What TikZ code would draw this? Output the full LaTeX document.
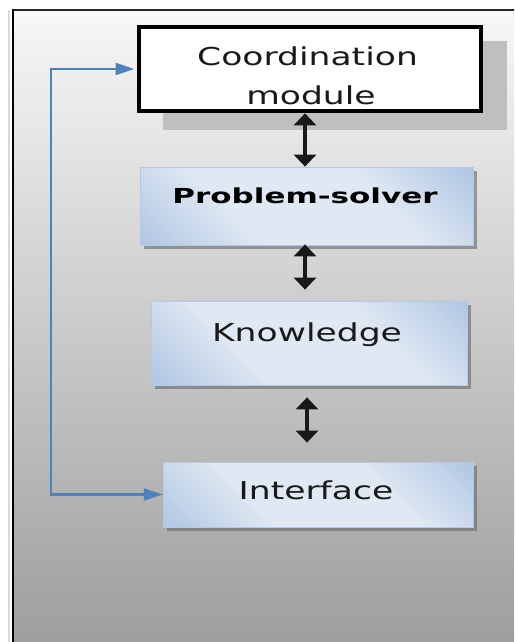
\documentclass[tikz,border=0pt]{standalone}
\usepackage{fontspec}
\newfontfamily\regfont[FakeStretch=1.40]{DejaVu Sans}
\newfontfamily\bfont[FakeStretch=1.50]{DejaVu Sans}
\usetikzlibrary{arrows.meta,calc}
\definecolor{bdark}{HTML}{90AED8}
\definecolor{blight}{HTML}{DFE8F3}
\definecolor{bline}{HTML}{4F81BD}
\definecolor{bedge}{HTML}{B3C9E4}
\pgfdeclarehorizontalshading{wordblue}{100bp}{color(0bp)=(bdark); color(36bp)=(blight); color(64bp)=(blight); color(100bp)=(bdark)}
\tikzset{
  bluebox/.style={rectangle, shading=wordblue, shading angle=45, draw=bedge, line width=0.6pt, inner sep=0pt},
  boxshadow/.style={fill=black!60, opacity=0.6},
  coordbox/.style={rectangle, fill=white, draw=black, line width=3.5pt, inner sep=0pt},
  regtext/.style={anchor=base, inner sep=0pt, text=black!90, font=\regfont\fontsize{18.5}{28}\selectfont},
  boldtext/.style={anchor=base, inner sep=0pt, text=black, font=\bfont\bfseries\fontsize{15.5}{20}\selectfont},
  biarrow/.style={draw=black!90, line width=2.3pt, {Triangle[width=16.5pt,length=9pt]}-{Triangle[width=16.5pt,length=9pt]}},
  blueline/.style={draw=bline, line width=1.6pt, {Triangle[width=9pt,length=14pt]}-{Triangle[width=9pt,length=14pt]}}
}
\begin{document}
\begin{tikzpicture}[x=0.75pt,y=-0.75pt]
\useasboundingbox (0,0) rectangle (514,642);
\clip (0,0) rectangle (514,642);
% background frame
\shade[top color=black!3, bottom color=black!39] (13,10) rectangle (530,660);
\draw[black!15, line width=1pt] (9,10) -- (9,660);
\draw[black!85, line width=1.3pt] (13,10) -- (530,10);
\draw[black, line width=2pt] (13,9) -- (13,660);
% coordination module
\fill[black!25] (163,41) rectangle (507,130);
\node[coordbox, minimum width=342*0.75pt, minimum height=84*0.75pt] (cm) at (310,69) {};
\node[regtext] (cmt1) at (307.5,65) {Coordination};
\begin{scope}
\clip (141,29) rectangle (479,109);
\node[regtext] (cmt2) at (311,104) {module};
\end{scope}
% shadows
\fill[boxshadow] (144,171) rectangle (477,249);
\fill[boxshadow] (155,305) rectangle (471,389);
\fill[boxshadow] (167,466) rectangle (477,531);
% blue boxes
\node[bluebox, minimum width=333*0.75pt, minimum height=78*0.75pt] (ps) at (306.5,206) {};
\node[bluebox, minimum width=316*0.75pt, minimum height=84*0.75pt] (kn) at (309,343) {};
\node[bluebox, minimum width=310*0.75pt, minimum height=65*0.75pt] (ifc) at (318,494.5) {};
\node[boldtext] (pst) at (305,203) {Problem-solver};
\node[regtext] (knt) at (307,341) {Knowledge};
\node[regtext] (ift) at (316,499) {Interface};
% vertical arrows
\coordinate (a1s) at ($(cm.south)+(-5,0)$);
\draw[biarrow] (a1s) -- (a1s |- ps.north);
\coordinate (a2s) at ($(ps.south)+(-1.5,-1)$);
\coordinate (a2e) at ($(kn.north)+(0,-11)$);
\draw[biarrow] (a2s) -- (a2s |- a2e);
\coordinate (a3s) at ($(kn.south)+(-2,12)$);
\coordinate (a3e) at ($(ifc.north)+(0,-19)$);
\draw[biarrow] (a3s) -- (a3s |- a3e);
% feedback line
\draw[blueline, shorten >=1.8pt] (ifc.west) -- ++(-112,0) |- (cm.west);
\end{tikzpicture}
\end{document}
